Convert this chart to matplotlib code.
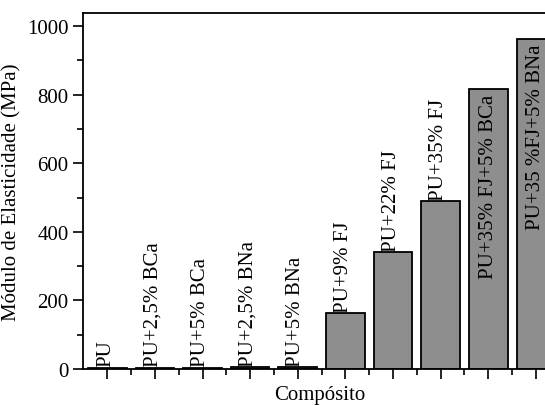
import numpy as np
import matplotlib.pyplot as plt
from matplotlib.ticker import MultipleLocator

plt.rcParams['font.family'] = ['Liberation Serif', 'DejaVu Serif']

# Composites and elastic modulus (MPa)
composites = ['PU', 'PU+2,5% BCa', 'PU+5% BCa', 'PU+2,5% BNa', 'PU+5% BNa',
              'PU+9% FJ', 'PU+22% FJ', 'PU+35% FJ', 'PU+35% FJ+5% BCa',
              'PU+35 %FJ+5% BNa']
modulus = [4, 4, 4, 6, 5, 162, 340, 489, 815, 961]
inside_label = [False] * 8 + [True, True]

fig = plt.figure(figsize=(5.45, 4.06), dpi=100)
ax = fig.add_axes([83 / 545, 36 / 406, 1.02 - 83 / 545, 356 / 406])

x = np.arange(1, len(modulus) + 1)
ax.bar(x, modulus, width=0.81, color='#8e8e8e', edgecolor='black', linewidth=1.3)

for xi, val, name, inside in zip(x, modulus, composites, inside_label):
    if inside:
        ax.text(xi, val - 12, name, rotation=90, ha='center', va='top', fontsize=15)
    else:
        ax.text(xi - 0.04, val + 4, name, rotation=90, ha='center', va='bottom', fontsize=15)

ax.set_xlim(0.49, 10.42)
ax.set_ylim(0, 1038)
ax.yaxis.set_major_locator(MultipleLocator(200))
ax.yaxis.set_minor_locator(MultipleLocator(100))
ax.set_xticks(x)
ax.set_xticklabels([])
ax.xaxis.set_minor_locator(plt.FixedLocator(x + 0.5))
ax.tick_params(axis='both', which='major', direction='out', length=7, width=1.2, labelsize=15)
ax.tick_params(axis='both', which='minor', direction='out', length=4, width=1.2)
ax.spines['right'].set_visible(False)
for s in ['left', 'bottom', 'top']:
    ax.spines[s].set_linewidth(1.3)

ax.set_xlabel('Compósito', fontsize=15, labelpad=1)
ax.set_ylabel('Módulo de Elasticidade (MPa)', fontsize=15, labelpad=4)

fig.savefig('out.png', dpi=100)
